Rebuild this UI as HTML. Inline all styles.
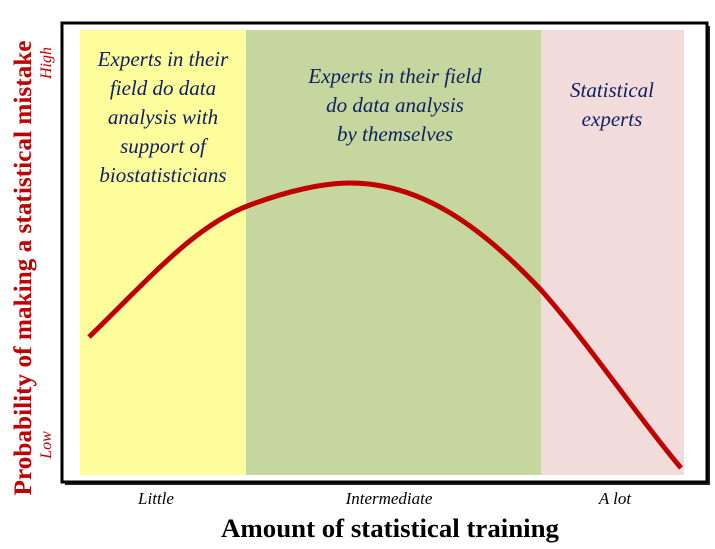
<!DOCTYPE html>
<html><head><style>
body{margin:0;background:#fff;width:715px;height:544px;overflow:hidden}
</style></head><body>
<svg width="715" height="544" xmlns="http://www.w3.org/2000/svg" font-family="Liberation Serif, serif">
<rect x="65" y="26" width="645" height="459" fill="#222"/>
<rect x="62" y="23" width="645" height="459" fill="#fff" stroke="#000" stroke-width="3"/>
<rect x="80" y="30" width="166" height="445" fill="#fdfd9b"/>
<rect x="246" y="30" width="295" height="445" fill="#c5d69e"/>
<rect x="541" y="30" width="143" height="445" fill="#f2dbdb"/>
<g fill="#102060" font-style="italic" font-size="21" text-anchor="middle">
<text x="163" y="66">Experts in their</text>
<text x="163" y="95">field do data</text>
<text x="163" y="124">analysis with</text>
<text x="163" y="153">support of</text>
<text x="163" y="182">biostatisticians</text>
<text x="395" y="83">Experts in their field</text>
<text x="395" y="112">do data analysis</text>
<text x="395" y="141">by themselves</text>
<text x="612" y="97">Statistical</text>
<text x="612" y="126">experts</text>
</g>
<path d="M89,337 C150,278 195,225 250,205 C290,190 325,183 350,183 C420,183 480,225 541,290 C590,345 640,420 681,468" fill="none" stroke="#c00000" stroke-width="5"/>
<g font-style="italic" font-size="17" text-anchor="middle" fill="#000">
<text x="156" y="504">Little</text>
<text x="389" y="504">Intermediate</text>
<text x="615" y="504">A lot</text>
</g>
<text x="390" y="537" font-size="26" font-weight="bold" text-anchor="middle" textLength="338" lengthAdjust="spacingAndGlyphs">Amount of statistical training</text>
<text transform="translate(31,268) rotate(-90)" font-size="25" font-weight="bold" fill="#c00000" text-anchor="middle" textLength="455" lengthAdjust="spacingAndGlyphs">Probability of making a statistical mistake</text>
<g fill="#c00000" font-style="italic" font-size="16" text-anchor="middle">
<text transform="translate(51,63) rotate(-90)">High</text>
<text transform="translate(51,445) rotate(-90)">Low</text>
</g>
</svg>
</body></html>
